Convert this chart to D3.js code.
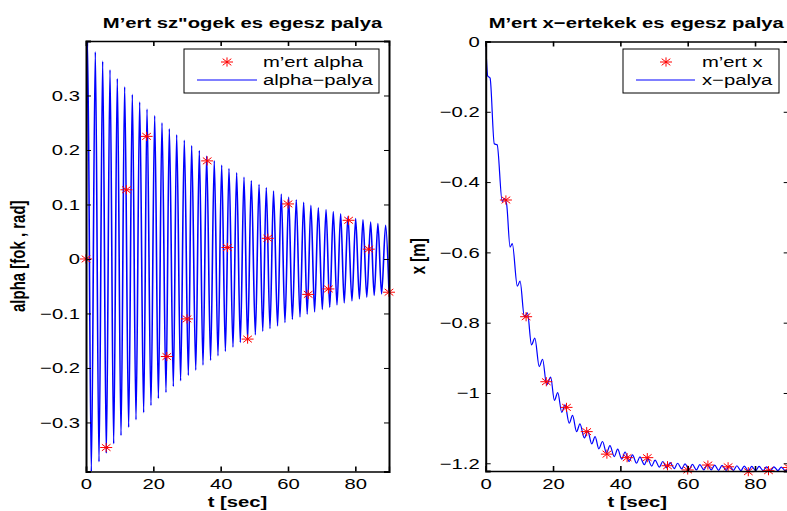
<!DOCTYPE html>
<html><head><meta charset="utf-8">
<script src="https://cdn.jsdelivr.net/npm/d3@7/dist/d3.min.js"></script>
<style>
body{margin:0;background:#fff;}
svg{display:block;font-family:"Liberation Sans",Arial,Helvetica,sans-serif;}
</style></head><body>
<svg id="chart" width="787" height="511"></svg>
<script>
// ---------- data ----------
const timeTicks = [0, 20, 40, 60, 80];
const timeTickLabels = ["0", "20", "40", "60", "80"];
const alphaTicks = [-0.3, -0.2, -0.1, 0, 0.1, 0.2, 0.3];
const alphaTickLabels = ["\u22120.3", "\u22120.2", "\u22120.1", "0", "0.1", "0.2", "0.3"];
const xTicks = [-1.2, -1, -0.8, -0.6, -0.4, -0.2, 0];
const xTickLabels = ["\u22121.2", "\u22121", "\u22120.8", "\u22120.6", "\u22120.4", "\u22120.2", "0"];

// measured samples (every 6 s)
const measAlphaT = [0, 6, 12, 18, 24, 30, 36, 42, 48, 54, 60, 66, 72, 78, 84, 90];
const measAlpha = [0, -0.346, 0.127, 0.225, -0.179, -0.110, 0.180, 0.021, -0.147, 0.038, 0.101, -0.065, -0.055, 0.071, 0.018, -0.061];
const measXT = [6, 12, 18, 24, 30, 36, 42, 48, 54, 60, 66, 72, 78, 84, 90];
const measX = [-0.451, -0.783, -0.968, -1.041, -1.110, -1.174, -1.184, -1.184, -1.207, -1.219, -1.205, -1.210, -1.224, -1.221, -1.212];

// alpha trajectory: start, extremes (tops / troughs), end
const alphaStartT = [0, 0.45];
const alphaStartV = [0, 0.40];
const alphaTopT = [2.77, 4.95, 7.13, 9.30, 11.48, 13.76, 15.94, 18.12, 20.40, 22.57, 24.75, 26.93, 29.2, 31.38, 33.66, 35.84, 38.1, 40.3, 42.47, 44.75, 46.93, 49.1, 51.4, 53.55, 55.7, 58.0, 60.2, 62.46, 64.65, 66.8, 69.0, 71.3, 73.45, 75.64, 77.8, 80.1, 82.27, 84.55, 86.7, 89.0];
const alphaTopV = [0.380, 0.363, 0.347, 0.331, 0.316, 0.302, 0.288, 0.275, 0.263, 0.250, 0.239, 0.228, 0.218, 0.208, 0.199, 0.189, 0.180, 0.172, 0.166, 0.158, 0.150, 0.1436, 0.1368, 0.1308, 0.1245, 0.119, 0.1136, 0.1088, 0.1038, 0.0983, 0.094, 0.0905, 0.0868, 0.0831, 0.078, 0.074, 0.072, 0.0678, 0.0648, 0.0617];
const alphaTroughT = [1.58, 3.86, 6.04, 8.22, 10.4, 12.67, 14.85, 17.13, 19.3, 21.5, 23.76, 25.94, 28.1, 30.4, 32.6, 34.75, 37.0, 39.2, 41.4, 43.66, 45.84, 48.0, 50.3, 52.5, 54.65, 56.9, 59.1, 61.3, 63.56, 65.7, 67.9, 70.2, 72.4, 74.55, 76.7, 79.0, 81.2, 83.4, 85.6, 87.8];
const alphaTroughV = [-0.390, -0.372, -0.3565, -0.339, -0.324, -0.309, -0.295, -0.282, -0.269, -0.256, -0.245, -0.234, -0.2235, -0.2136, -0.204, -0.1947, -0.186, -0.1777, -0.1696, -0.1617, -0.153, -0.148, -0.139, -0.1324, -0.1275, -0.1227, -0.1165, -0.111, -0.1062, -0.1013, -0.097, -0.0927, -0.089, -0.0842, -0.0806, -0.0769, -0.0733, -0.070, -0.067, -0.064];
const alphaEndT = [90];
const alphaEndV = [-0.061];

// x trajectory: key points (plateaus / wiggle extremes)
const xPathT = [0, 0.6, 1.3, 2.55, 3.4, 4.9, 5.5, 6.2, 7.25, 7.9, 9.4, 10.2, 11.5, 12.4, 13.6, 14.6, 15.9, 16.9, 18.1, 19.3, 20.4, 21.4, 22.6, 23.55, 24.8, 25.8, 27.0, 28.0, 29.3, 30.3, 31.5, 32.5, 33.6, 34.7, 35.9, 36.9, 38.2, 39.2, 40.4, 41.4, 42.6, 43.6, 44.8, 45.8, 47.1, 48.1, 49.3, 50.3, 51.6, 52.6, 53.8, 54.8, 56.0, 57.0, 58.2, 59.2, 60.4, 61.4, 62.6, 63.6, 64.8, 65.8, 67.0, 68.0, 69.2, 70.2, 71.4, 72.4, 73.6, 74.6, 75.8, 76.8, 78.0, 79.0, 80.2, 81.2, 82.4, 83.4, 84.6, 85.6, 86.8, 87.8, 89.0, 90];
const xPathV = [0, -0.098, -0.104, -0.291, -0.294, -0.455, -0.447, -0.462, -0.585, -0.575, -0.696, -0.682, -0.784, -0.772, -0.863, -0.844, -0.925, -0.904, -0.977, -0.955, -1.021, -0.999, -1.055, -1.034, -1.086, -1.064, -1.110, -1.088, -1.128, -1.108, -1.145, -1.124, -1.159, -1.138, -1.171, -1.150, -1.181, -1.160, -1.188, -1.168, -1.195, -1.176, -1.200, -1.182, -1.204, -1.187, -1.208, -1.191, -1.211, -1.195, -1.213, -1.198, -1.215, -1.200, -1.216, -1.202, -1.218, -1.203, -1.219, -1.204, -1.219, -1.204, -1.219, -1.205, -1.220, -1.206, -1.220, -1.207, -1.220, -1.207, -1.221, -1.208, -1.222, -1.209, -1.221, -1.209, -1.221, -1.210, -1.221, -1.210, -1.221, -1.211, -1.221, -1.212];

// ---------- drawing ----------
const svg = d3.select("#chart");
const FONT = 15;
const KX = 1.35; // horizontal glyph stretch seen in the figure

function zipPts(ts, vs) { return ts.map((t, i) => ({ t: t, v: vs[i] })); }

// place a text at (x,y) with horizontal stretch (screen space), optional rotation
function stretchedText(parent, x, y, str, opts) {
  const rot = opts.rotate ? ` rotate(${opts.rotate})` : "";
  return parent.append("text")
    .attr("transform", `translate(${x},${y}) scale(${KX},1)${rot}`)
    .attr("text-anchor", opts.anchor || "start")
    .style("font-size", FONT + "px")
    .style("font-weight", opts.bold ? "bold" : "normal")
    .attr("fill", "#000")
    .text(str);
}

const alphaPath = zipPts(alphaStartT, alphaStartV)
  .concat(zipPts(alphaTopT, alphaTopV))
  .concat(zipPts(alphaTroughT, alphaTroughV))
  .concat(zipPts(alphaEndT, alphaEndV))
  .sort((a, b) => a.t - b.t);
const xPath = zipPts(xPathT, xPathV);

function panel(cfg) {
  const x = d3.scaleLinear().domain([0, 90]).range([cfg.left, cfg.right]);
  const y = d3.scaleLinear().domain(cfg.ydomain).range([cfg.bottom, cfg.top]);
  const g = svg.append("g");
  const clipId = "clip" + cfg.id;
  svg.append("clipPath").attr("id", clipId).append("rect")
    .attr("x", cfg.left).attr("y", cfg.top)
    .attr("width", cfg.right - cfg.left).attr("height", cfg.bottom - cfg.top);

  // trajectory line
  const line = d3.line().x(d => x(d.t)).y(d => y(d.v)).curve(d3.curveMonotoneX);
  g.append("path").datum(cfg.path).attr("clip-path", "url(#" + clipId + ")")
    .attr("d", line).attr("fill", "none").attr("stroke", "#0000ff").attr("stroke-width", cfg.lw);

  // measured stars (asterisk markers, slightly wider than tall)
  const star = (cx, cy) => {
    const rx = 6, ry = 4.6, dx = rx * 0.72, dy = ry * 0.72;
    return `M${cx - rx},${cy}L${cx + rx},${cy}M${cx},${cy - ry}L${cx},${cy + ry}` +
      `M${cx - dx},${cy - dy}L${cx + dx},${cy + dy}M${cx - dx},${cy + dy}L${cx + dx},${cy - dy}`;
  };
  g.append("g").selectAll("path").data(cfg.meas).join("path")
    .attr("d", d => star(x(d.t), y(d.v)))
    .attr("stroke", "#ff0000").attr("stroke-width", 1).attr("fill", "none");

  // axes (ticks inside)
  const ax = [
    d3.axisBottom(x).tickValues(timeTicks).tickFormat((d, i) => timeTickLabels[i]).tickSize(-5).tickPadding(7),
    d3.axisTop(x).tickValues(timeTicks).tickFormat("").tickSize(-5),
    d3.axisLeft(y).tickValues(cfg.yticks).tickFormat((d, i) => cfg.ylabels[i]).tickSize(-5).tickPadding(6),
    d3.axisRight(y).tickValues(cfg.yticks).tickFormat("").tickSize(-5)
  ];
  const pos = [`translate(0,${cfg.bottom})`, `translate(0,${cfg.top})`, `translate(${cfg.left},0)`, `translate(${cfg.right},0)`];
  ax.forEach((a, i) => {
    const ag = g.append("g").attr("transform", pos[i]).call(a);
    ag.select(".domain").attr("stroke", "#000").attr("stroke-width", i >= 2 ? 2 : 1.3);
    ag.selectAll(".tick line").attr("stroke", "#000").attr("stroke-width", i >= 2 ? 1 : 1.6);
    ag.selectAll(".tick text").each(function () {
      const t = d3.select(this);
      const tx = +t.attr("x") || 0, ty = +t.attr("y") || 0;
      t.attr("x", 0).attr("y", 0).attr("transform", `translate(${tx},${ty}) scale(${KX},1)`);
    }).attr("fill", "#000").style("font-size", FONT + "px")
      .style("font-family", "'Liberation Sans',Arial,sans-serif");
  });

  // title & labels
  const cx = (cfg.left + cfg.right) / 2;
  stretchedText(svg, cx + cfg.titleDx, 28, cfg.title, { anchor: "middle", bold: true });
  stretchedText(svg, cx, 507, "t [sec]", { anchor: "middle", bold: true });
  stretchedText(svg, cfg.ylabelX, (cfg.top + cfg.bottom) / 2, cfg.ylabel, { anchor: "middle", bold: true, rotate: -90 });

  // legend
  const L = cfg.legend;
  g.append("rect").attr("x", L.x).attr("y", L.y).attr("width", L.w).attr("height", L.h)
    .attr("fill", "#fff").attr("stroke", "#000").attr("stroke-width", 1);
  g.append("path").attr("d", star(L.starX, L.y + 13)).attr("stroke", "#ff0000").attr("fill", "none");
  g.append("line").attr("x1", L.lineX1).attr("x2", L.lineX2).attr("y1", L.y + 31).attr("y2", L.y + 31)
    .attr("stroke", "#0000ff").attr("stroke-width", 1);
  stretchedText(g, L.textX, L.y + 18, cfg.legendLabels[0], {});
  stretchedText(g, L.textX, L.y + 36, cfg.legendLabels[1], {});
}

panel({
  id: "a", left: 86, right: 389, top: 41, bottom: 471.5, lw: 1.6, titleDx: 5,
  ydomain: [-0.39, 0.40], yticks: alphaTicks, ylabels: alphaTickLabels,
  path: alphaPath, meas: zipPts(measAlphaT, measAlpha),
  title: "M\u2019ert sz\"ogek es egesz palya", ylabel: "alpha [fok , rad]", ylabelX: 25,
  legend: { x: 184, y: 49, w: 195, h: 44, starX: 227, lineX1: 197, lineX2: 257, textX: 263 },
  legendLabels: ["m\u2019ert alpha", "alpha\u2212palya"]
});
panel({
  id: "x", left: 485.7, right: 788.7, top: 41.5, bottom: 471, lw: 1.2, titleDx: -1,
  ydomain: [-1.222, 0], yticks: xTicks, ylabels: xTickLabels,
  path: xPath, meas: zipPts(measXT, measX),
  title: "M\u2019ert x\u2212ertekek es egesz palya", ylabel: "x [m]", ylabelX: 425,
  legend: { x: 623, y: 49, w: 156, h: 44, starX: 666, lineX1: 636, lineX2: 695, textX: 702 },
  legendLabels: ["m\u2019ert x", "x\u2212palya"]
});
</script>
</body></html>
